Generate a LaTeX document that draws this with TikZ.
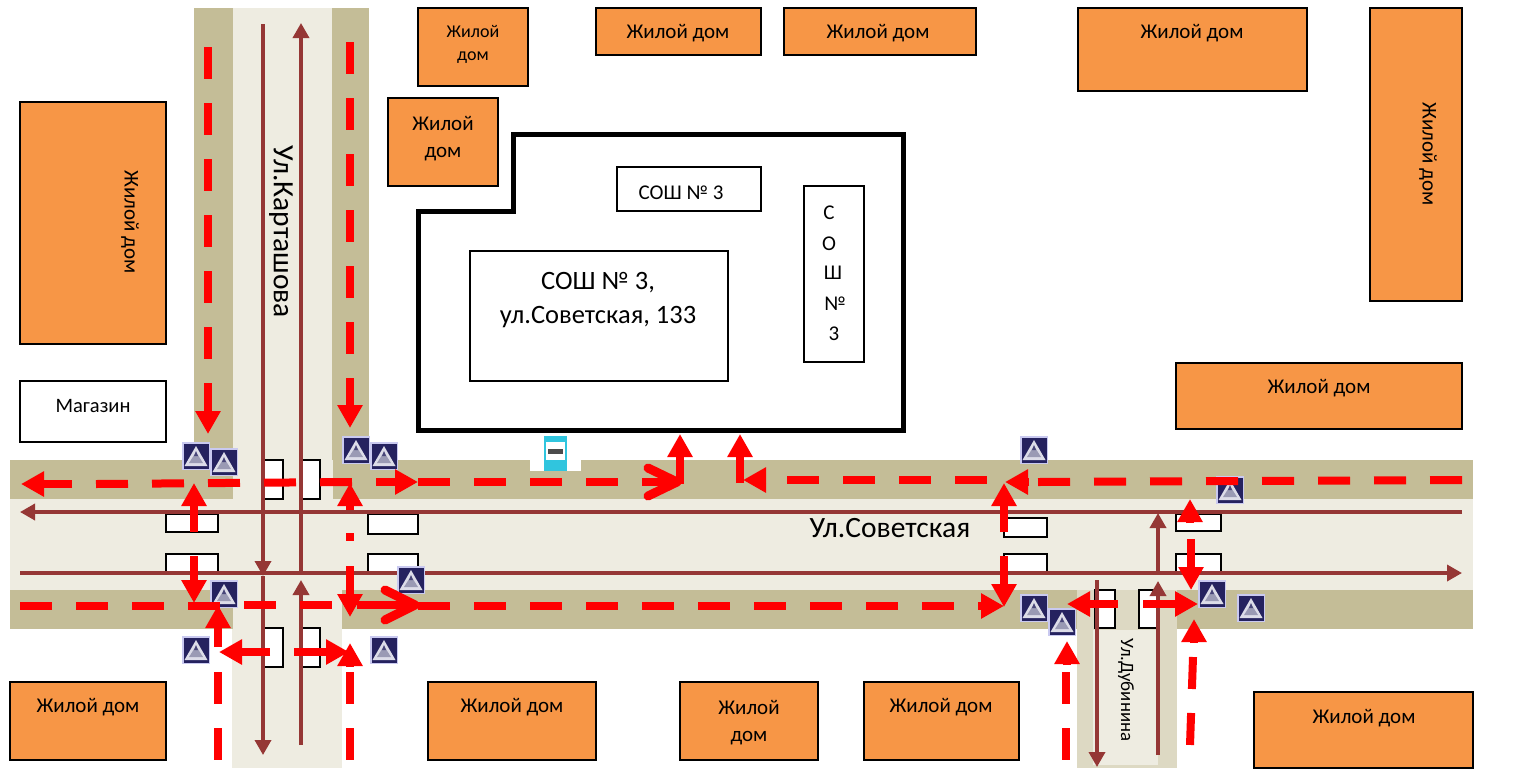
\documentclass[tikz,border=0pt]{standalone}
\usepackage{fontspec}
\setmainfont{Carlito}
\usetikzlibrary{arrows.meta}
\definecolor{walk}{HTML}{C4BD97}
\definecolor{road}{HTML}{EEECE1}
\definecolor{dub}{HTML}{DDD9C3}
\definecolor{brownline}{HTML}{953735}
\definecolor{house}{HTML}{F79646}
\definecolor{signedge}{HTML}{C9C9F0}
\definecolor{signbg}{HTML}{25225F}
\definecolor{signtri}{HTML}{DCDCE8}
\definecolor{signmid}{HTML}{9A9AB4}
\definecolor{busblue}{HTML}{30C5DE}
\newcommand{\fsz}[1]{\fontsize{#1}{#1}\selectfont}
\tikzset{
  housebox/.style={draw=black,line width=2pt,fill=house},
  whitebox/.style={draw=black,line width=2pt,fill=white},
  walkfill/.style={fill=walk},
  roadfill/.style={fill=road},
  cross/.style={draw=black,line width=1.6pt,fill=white},
  brownarrow/.style={draw=brownline,line width=3.5pt,-{Triangle[length=15pt,width=16pt]}},
  redarrow/.style={draw=red,line width=8pt,-{Triangle[length=23pt,width=24pt]}},
  reddash/.style={draw=red,line width=8pt,dash pattern=on 32pt off 24pt},
  redchev/.style={draw=red,line width=9pt,line cap=round,line join=round},
  lab/.style={inner sep=0pt,text=black,font=\fsz{21}},
  pedsign/.pic={
    \fill[signedge] (0,0) rectangle (28,28);
    \fill[signbg] (1.5,1.5) rectangle (26.5,26.5);
    \fill[signtri] (14,4) -- (25.5,24) -- (2.5,24) -- cycle;
    \fill[signmid] (14,10) -- (21,21) -- (7,21) -- cycle;
    \fill[signbg!70!signmid] (14,9) -- (16,14) -- (12,14) -- cycle;
  }
}
\begin{document}
\begin{tikzpicture}[x=1pt,y=-1pt]
\useasboundingbox (0,0) rectangle (1522,769);
% roads
\fill[roadfill] (10,499) rectangle (1473,590);
\fill[roadfill] (233,8) rectangle (333,768);
\fill[roadfill] (232,590) rectangle (342,768);
\fill[walkfill] (194,8) rectangle (233,499);
\fill[walkfill] (332,8) rectangle (369,460);
\fill[walkfill] (10,460) rectangle (233,499);
\fill[walkfill] (333,460) rectangle (1473,499);
\fill[walkfill] (10,590) rectangle (233,629);
\fill[walkfill] (342,590) rectangle (1077,629);
\fill[walkfill] (1177,590) rectangle (1473,629);
\fill[fill=dub] (1077,590) rectangle (1177,768);
\fill[roadfill] (1093,630) rectangle (1158,765);
% crossings
\draw[cross] (264,460) rectangle (283,499);
\draw[cross] (302,460) rectangle (320,499);
\draw[cross] (166,514) rectangle (218,532);
\draw[cross] (166,554) rectangle (218,574);
\draw[cross] (368,514) rectangle (418,534);
\draw[cross] (368,554) rectangle (418,574);
\draw[cross] (264,628) rectangle (283,667);
\draw[cross] (302,628) rectangle (320,667);
\draw[cross] (1004,518) rectangle (1047,537);
\draw[cross] (1004,554) rectangle (1047,574);
\draw[cross] (1176,514) rectangle (1221,531);
\draw[cross] (1176,554) rectangle (1221,574);
\draw[cross] (1095,590) rectangle (1115,628);
\draw[cross] (1139,590) rectangle (1157,628);
% houses
\draw[housebox] (20,102) rectangle (166,344);
\draw[housebox] (418,8) rectangle (528,86);
\draw[housebox] (596,8) rectangle (761,55);
\draw[housebox] (784,8) rectangle (976,55);
\draw[housebox] (1078,8) rectangle (1307,91);
\draw[housebox] (1370,8) rectangle (1462,301);
\draw[housebox] (388,98) rectangle (498,186);
\draw[housebox] (1176,363) rectangle (1462,429);
\draw[housebox] (10,682) rectangle (166,760);
\draw[housebox] (428,682) rectangle (596,760);
\draw[housebox] (680,682) rectangle (818,760);
\draw[housebox] (864,682) rectangle (1019,760);
\draw[housebox] (1254,692) rectangle (1473,768);
\draw[whitebox] (20,381) rectangle (166,442);
% school
\draw[black,line width=5pt,line join=miter,fill=white] (418,430) -- (418,211) -- (513,211) -- (513,134) -- (903,134) -- (903,430) -- cycle;
\draw[whitebox] (470,251) rectangle (728,381);
\draw[whitebox] (617,167) rectangle (761,211);
\draw[whitebox] (804,186) rectangle (864,362);
% texts
\node[lab,rotate=-90] (h1) at (130,222) {Жилой дом};
\node[lab,font=\fsz{18}] (h2a) at (473,31) {Жилой};
\node[lab,font=\fsz{18}] (h2b) at (473,58) {дом};
\node[lab] (h3) at (678,33) {Жилой дом};
\node[lab] (h4) at (878,33) {Жилой дом};
\node[lab] (h5) at (1192,33) {Жилой дом};
\node[lab,rotate=-90] (h6) at (1428,154) {Жилой дом};
\node[lab] (h7a) at (443,123) {Жилой};
\node[lab] (h7b) at (443,154) {дом};
\node[lab] (h8) at (1319,388) {Жилой дом};
\node[lab] (h9) at (88,707) {Жилой дом};
\node[lab] (h10) at (512,707) {Жилой дом};
\node[lab] (h11a) at (749,707) {Жилой};
\node[lab] (h11b) at (749,738) {дом};
\node[lab] (h12) at (941,707) {Жилой дом};
\node[lab] (h13) at (1364,718) {Жилой дом};
\node[lab,font=\fsz{20.5}] (shop) at (93,406) {Магазин};
\node[lab,font=\fsz{26.5}] (s1a) at (598,283) {СОШ № 3,};
\node[lab,font=\fsz{26.5}] (s1b) at (598,317) {ул.Советская, 133};
\node[lab,font=\fsz{21}] (s2) at (681,193) {СОШ № 3};
\node[lab,font=\fsz{21}] (c1) at (829,213) {С};
\node[lab,font=\fsz{21}] (c2) at (829,244) {О};
\node[lab,font=\fsz{21}] (c3) at (833,273) {Ш};
\node[lab,font=\fsz{21}] (c4) at (835,304) {№};
\node[lab,font=\fsz{21}] (c5) at (834,334) {3};
\node[lab,font=\fsz{29.5},rotate=-90] (r1) at (281,232) {Ул.Карташова};
\node[lab,font=\fsz{29.5}] (r2) at (890,528) {Ул.Советская};
\node[lab,font=\fsz{18.8},rotate=-90] (r3) at (1126,690) {Ул.Дубинина};
% brown lines
\draw[brownarrow] (1462,512) -- (20,512);
\draw[brownarrow] (20,573) -- (1462,573);
\draw[brownarrow] (263,24) -- (263,576);
\draw[brownarrow] (263,576) -- (263,755);
\draw[brownarrow] (301,745) -- (301,580);
\draw[brownarrow] (301,573) -- (301,23);
\draw[brownarrow] (1097,580) -- (1097,767);
\draw[brownarrow] (1158,755) -- (1158,581);
\draw[brownarrow] (1158,573) -- (1158,513);
% bus stop
\fill[white] (530,436) rectangle (581,471);
\fill[busblue] (544,436) rectangle (567,471);
\fill[white] (546,442) rectangle (565,460);
\fill[black!70] (548,449) rectangle (563,454);
% pedestrian signs
\foreach \px/\py in {182/442,210/448,342/436,370/442,210/580,397/566,182/636,370/636,1020/436,1216/476,1020/594,1048/608,1198/580,1237/594}
  \pic at (\px,\py) {pedsign};
% red: verticals down Kartashova
\draw[reddash] (208,47) -- (208,360);
\draw[redarrow] (208,383) -- (208,434);
\draw[reddash] (350,42) -- (350,355);
\draw[redarrow] (350,378) -- (350,428);
% red: upper walkway
\draw[redarrow] (72,484) -- (21,484);
\draw[reddash] (96,484) -- (352,482);
\draw[redarrow] (376,482) -- (418,482);
\draw[reddash] (418,482) -- (620,482);
\draw[draw=red,line width=8pt] (642,482) -- (677,482);
\draw[redchev] (648,468) -- (677,482) -- (648,496);
\draw[redarrow] (680,484) -- (680,434);
\draw[redarrow] (740,483) -- (740,434);
\draw[redarrow] (766,480) -- (743,480);
\draw[reddash] (787,480) -- (987,480);
\draw[redarrow] (1029,482) -- (1005,482);
\draw[reddash] (1038,482) -- (1462,480);
% red: lower walkway
\draw[reddash] (20,606) -- (220,606);
\draw[reddash] (244,605) -- (332,605);
\draw[draw=red,line width=8pt] (357,605) -- (417,605);
\draw[redchev] (385,590) -- (415,605) -- (385,620);
\draw[reddash] (418,606) -- (954,606);
\draw[redarrow] (978,606) -- (1004,606);
% red: crossings over Sovetskaya
\draw[redarrow] (194,532) -- (194,483);
\draw[redarrow] (194,556) -- (194,603);
\draw[redarrow] (350,510) -- (350,483);
\fill[red] (346,533) rectangle (354,541);
\draw[redarrow] (350,566) -- (350,617);
\draw[redarrow] (1004,532) -- (1004,483);
\draw[redarrow] (1004,556) -- (1004,607);
\draw[redarrow] (1190,523) -- (1190,499);
\draw[redarrow] (1191,539) -- (1191,590);
% red: lower left
\draw[redarrow] (218,647) -- (218,605);
\draw[reddash] (218,672) -- (218,760);
\draw[redarrow] (270,652) -- (219,652);
\draw[redarrow] (294,652) -- (349,652);
\draw[redarrow] (350,667) -- (350,643);
\draw[reddash] (350,672) -- (350,760);
% red: Dubinina
\draw[redarrow] (1118,604) -- (1067,604);
\draw[redarrow] (1143,604) -- (1198,604);
\draw[redarrow] (1067,665) -- (1067,641);
\draw[reddash] (1066,672) -- (1066,760);
\draw[redarrow] (1194,643) -- (1194,619);
\draw[reddash] (1193,657) -- (1190,745);
\end{tikzpicture}
\end{document}
